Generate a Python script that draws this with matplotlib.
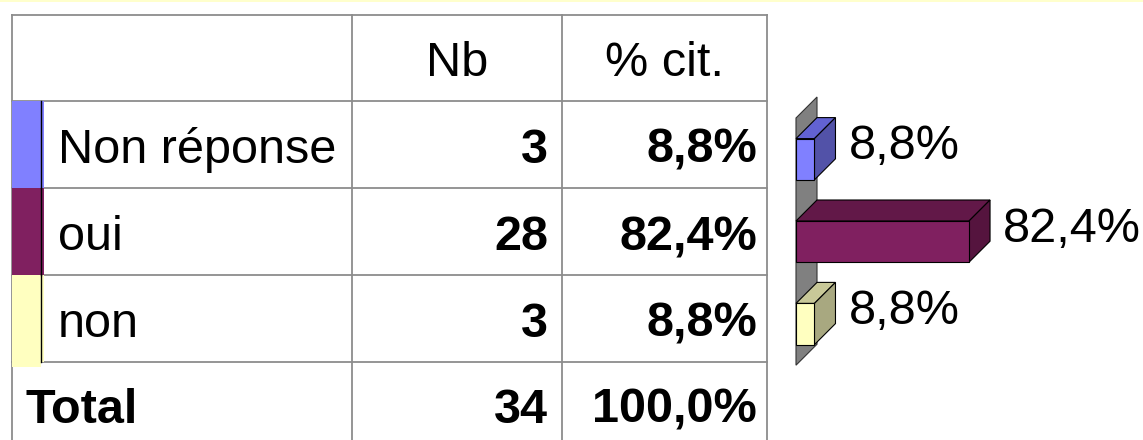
import numpy as np
import matplotlib.pyplot as plt
from matplotlib.patches import Polygon, Rectangle

plt.rcParams['font.family'] = ['Liberation Sans', 'DejaVu Sans']

categories = ['Non réponse', 'oui', 'non']
counts = [3, 28, 3]
percents = [8.8, 82.4, 8.8]
total_count = 34
total_percent = 100.0
headers = ['Nb', '% cit.']

front_colors = ['#8080ff', '#802060', '#ffffc0']
top_colors = ['#6262d2', '#621848', '#c8c898']
side_colors = ['#5252a8', '#55143e', '#a8a880']


def fmt_pct(v):
    return ('%.1f%%' % v).replace('.', ',')


W, H = 1143, 440
fig = plt.figure(figsize=(W / 100, H / 100), dpi=100)
ax = fig.add_axes([0, 0, 1, 1])
ax.set_xlim(0, W)
ax.set_ylim(H, 0)
ax.axis('off')

# yellow strip at the top
ax.add_patch(Rectangle((0, 0), W, 2.5, color='#ffffcc', lw=0))

# table grid
col_x = [12, 352, 562, 767]
row_y = [15, 101, 188, 275, 362]
grid = '#8c8c8c'
for x in col_x:
    ax.plot([x, x], [row_y[0], H + 5], color=grid, lw=1.3)
for y in row_y:
    ax.plot([col_x[0], col_x[-1]], [y, y], color=grid, lw=1.3)

fs = 35
ax.text((col_x[1] + col_x[2]) / 2, 76, headers[0], fontsize=fs, ha='center', va='baseline')
ax.text((col_x[2] + col_x[3]) / 2, 76, headers[1], fontsize=fs, ha='center', va='baseline')

for i, (cat, n, p) in enumerate(zip(categories, counts, percents)):
    y0, y1 = row_y[i + 1], row_y[i + 2]
    ybot = y1 + (5 if i == len(categories) - 1 else 0)
    ax.add_patch(Rectangle((12, y0), 28.5, ybot - y0, color=front_colors[i], lw=0, zorder=3))
    ax.add_patch(Rectangle((41.5, y0), 2, y1 - y0, color=front_colors[i], lw=0, zorder=3))
    ax.plot([40.8, 40.8], [y0, y1], color='black', lw=1, zorder=4)
    base = y0 + 62
    ax.text(58, base, cat, fontsize=fs, ha='left', va='baseline')
    ax.text(548, base, str(n), fontsize=fs, fontweight='bold', ha='right', va='baseline')
    ax.text(757, base, fmt_pct(p), fontsize=fs, fontweight='bold', ha='right', va='baseline')

ax.text(25, 423, 'Total', fontsize=fs, fontweight='bold', ha='left', va='baseline')
ax.text(548, 423, str(total_count), fontsize=fs, fontweight='bold', ha='right', va='baseline')
ax.text(757, 423, fmt_pct(total_percent), fontsize=fs, fontweight='bold', ha='right', va='baseline')

# 3D-looking bar chart
px_per_pct = 2.1
row_px = 82.4
depth_px = 21
x0_px, y_top_px = 796, 118
xmax = 100
ax2 = fig.add_axes([x0_px / W, 1 - (y_top_px + 3 * row_px) / H,
                    xmax * px_per_pct / W, 3 * row_px / H])
ax2.set_xlim(0, xmax)
ax2.set_ylim(2.5, -0.5)
ax2.axis('off')
dx = depth_px / px_per_pct
dy = -depth_px / row_px
bh = 0.25

wall = [(0, -0.5), (dx, -0.5 + dy), (dx, 2.5 + dy), (0, 2.5)]
ax2.add_patch(Polygon(wall, closed=True, facecolor='#808080', edgecolor='#333333',
                      lw=0.8, clip_on=False))

for i, v in enumerate(percents):
    top = [(0, i - bh), (v, i - bh), (v + dx, i - bh + dy), (dx, i - bh + dy)]
    side = [(v, i - bh), (v + dx, i - bh + dy), (v + dx, i + bh + dy), (v, i + bh)]
    ax2.add_patch(Polygon(top, closed=True, facecolor=top_colors[i], edgecolor='black',
                          lw=0.8, clip_on=False))
    ax2.add_patch(Polygon(side, closed=True, facecolor=side_colors[i], edgecolor='black',
                          lw=0.8, clip_on=False))
    ax2.add_patch(Rectangle((0, i - bh), v, 2 * bh, facecolor=front_colors[i],
                            edgecolor='black', lw=0.8, clip_on=False))
    ax2.text(v + dx + 13 / px_per_pct, i, fmt_pct(v), fontsize=fs, ha='left',
             va='baseline', clip_on=False)

fig.savefig('out.png', dpi=100)
